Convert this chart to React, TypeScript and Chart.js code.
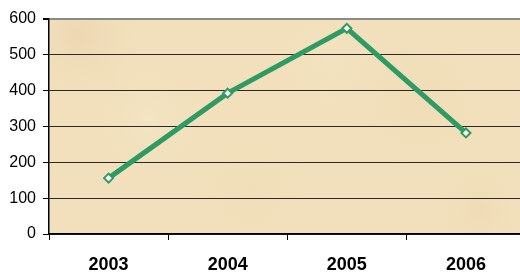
import React, { useEffect, useRef } from "react";
import { Chart, registerables } from "chart.js";

Chart.register(...registerables);

const categories = ["2003", "2004", "2005", "2006"];
const values = [156, 393, 574, 282];
const yTicks = [0, 100, 200, 300, 400, 500, 600];

const parchment = {
  id: "parchment",
  beforeDraw(chart: any) {
    const { ctx, chartArea } = chart;
    const { left, top, right, bottom } = chartArea;
    ctx.save();
    ctx.fillStyle = "#f1e0bb";
    ctx.fillRect(left, top, right - left, bottom - top);
    const blobs = [
      [80, 35, 70, "rgba(236,210,175,0.7)"],
      [420, 100, 90, "rgba(238,216,178,0.4)"],
      [250, 190, 80, "rgba(238,218,176,0.35)"],
      [150, 120, 60, "rgba(245,232,203,0.5)"],
      [480, 210, 60, "rgba(236,214,172,0.4)"],
      [330, 60, 60, "rgba(245,230,198,0.4)"],
    ];
    for (const [x, y, r, c] of blobs as any) {
      const g = ctx.createRadialGradient(x, y, 0, x, y, r);
      g.addColorStop(0, c);
      g.addColorStop(1, "rgba(241,224,187,0)");
      ctx.fillStyle = g;
      ctx.fillRect(left, top, right - left, bottom - top);
    }
    ctx.restore();
  },
};

export default function App() {
  const ref = useRef<HTMLCanvasElement>(null);
  useEffect(() => {
    const chart = new Chart(ref.current!, {
      type: "line",
      data: {
        labels: categories,
        datasets: [
          {
            data: values,
            borderColor: "#2f9a63",
            borderWidth: 5,
            pointStyle: "rectRot",
            pointRadius: 4.5,
            pointBorderWidth: 2,
            pointBackgroundColor: "#ffffff",
            pointBorderColor: "#2f9a63",
            tension: 0,
          },
        ],
      },
      options: {
        animation: false,
        responsive: false,
        maintainAspectRatio: false,
        layout: { padding: { top: 19, right: 0, left: 0, bottom: 0 } },
        plugins: { legend: { display: false }, tooltip: { enabled: false } },
        scales: {
          x: {
            offset: true,
            grid: {
              drawOnChartArea: false,
              drawTicks: true,
              tickLength: 6,
              color: "#000",
              offset: true,
            },
            border: { color: "#000", width: 1.5 },
            ticks: {
              color: "#000",
              padding: 14,
              font: { family: "'Liberation Sans', Arial", size: 18, weight: "bold" },
            },
            afterFit: (s: any) => {
              s.height = 41;
            },
          },
          y: {
            min: 0,
            max: 600,
            afterBuildTicks: (s: any) => {
              s.ticks = yTicks.map((v) => ({ value: v }));
            },
            grid: {
              color: (c: any) => (c.tick && c.tick.value === 600 ? "#8a8a8a" : "#2a2a2a"),
              lineWidth: (c: any) => (c.tick && c.tick.value === 600 ? 2 : 1),
              tickLength: 6,
              tickColor: "#000",
            },
            border: { color: "#000", width: 1.5 },
            ticks: {
              color: "#000",
              padding: 7,
              font: { family: "'Liberation Sans', Arial", size: 16 },
            },
            afterFit: (s: any) => {
              s.width = 49;
            },
          },
        },
      },
      plugins: [parchment],
    });
    return () => chart.destroy();
  }, []);
  return (
    <div style={{ position: "fixed", left: 0, top: 0, width: 520, height: 275, background: "#fff", overflow: "hidden" }}>
      <canvas ref={ref} width={532} height={275} style={{ width: 532, height: 275 }} />
    </div>
  );
}
